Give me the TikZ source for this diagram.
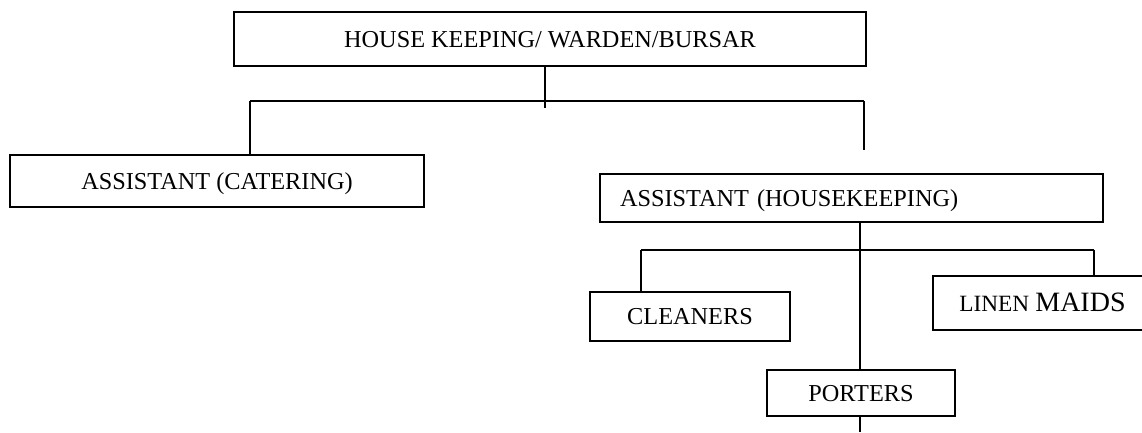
\documentclass[tikz,border=0pt]{standalone}
\usepackage{fontspec}
\setmainfont{Liberation Serif}
\begin{document}
\begin{tikzpicture}[x=1pt,y=-1pt,
  box/.style={draw, line width=1.4pt, inner sep=0pt, text height=16pt, text depth=0pt,
    font=\fontsize{24.3}{28}\selectfont},
  conn/.style={line width=1.4pt}]
\useasboundingbox (0,0) rectangle (1142,432);
\clip (0,0) rectangle (1142,432);
% boxes
\node[box, minimum width=632pt, minimum height=54pt] (top) at (550,39) {HOUSE KEEPING/ WARDEN/BURSAR};
\node[box, minimum width=414pt, minimum height=52pt] (cat) at (217,181) {ASSISTANT (CATERING)};
\node[box, minimum width=503pt, minimum height=48pt, text width=463pt, inner xsep=20pt, align=left] (hk) at (851.5,198) {ASSISTANT (HOUSEKEEPING)};
\node[box, minimum width=200pt, minimum height=49pt] (cln) at (690,316.5) {CLEANERS};
\node[box, minimum width=219pt, minimum height=54pt] (lin) at (1042.5,303) {{\fontsize{23.3}{28}\selectfont LINEN} {\fontsize{28}{32}\selectfont MAIDS}};
\node[box, minimum width=188pt, minimum height=46pt] (por) at (861,393) {PORTERS};
% junction coordinates
\coordinate (j1) at (545,108);
\coordinate (hl) at (250,101);
\coordinate (hr) at (864,101);
\coordinate (hre) at (864,150);
\coordinate (v2) at (860,222);
\coordinate (bl) at (641,250);
\coordinate (br) at (1094,250);
\coordinate (pend) at (860,432);
% connectors
\draw[conn] (top.south -| j1) -- (j1);
\draw[conn] (hl) -- (hr);
\draw[conn] (hl) -- (hl |- cat.north);
\draw[conn] (hr) -- (hre);
\draw[conn] (v2) -- (v2 |- por.north);
\draw[conn] (bl) -- (br);
\draw[conn] (bl) -- (bl |- cln.north);
\draw[conn] (br) -- (br |- lin.north);
\draw[conn] (por.south -| pend) -- (pend);
\end{tikzpicture}
\end{document}
